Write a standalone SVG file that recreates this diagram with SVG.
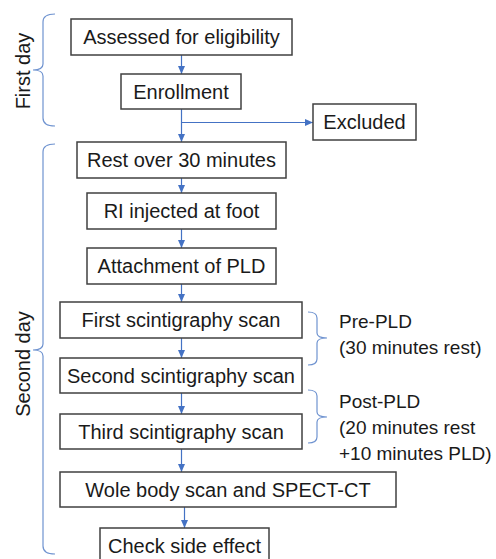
<svg xmlns="http://www.w3.org/2000/svg" width="496" height="559" viewBox="0 0 496 559">
<defs>
<marker id="ah" markerUnits="userSpaceOnUse" markerWidth="8" markerHeight="7" refX="8" refY="3.5" orient="auto">
<path d="M0,0 L8,3.5 L0,7 z" fill="#4472C4"/>
</marker>
<style>
.box{fill:#fff;stroke:#404040;stroke-width:1.5}
.t{font-family:"Liberation Sans",Arial,sans-serif;font-size:20px;fill:#1a1a1a}
.r{font-size:19px}
.c{text-anchor:middle}
.con{fill:none;stroke:#4472C4;stroke-width:1.2}
.br{fill:none;stroke:#6f93d0;stroke-width:1.2}
</style>
</defs>
<rect width="496" height="559" fill="#fff"/>
<g id="connectors">
<line class="con" x1="181.5" y1="55" x2="181.5" y2="74" marker-end="url(#ah)"/>
<line class="con" x1="181.5" y1="109" x2="181.5" y2="142" marker-end="url(#ah)"/>
<line class="con" x1="181.5" y1="122.5" x2="313" y2="122.5" marker-end="url(#ah)"/>
<line class="con" x1="181.5" y1="178" x2="181.5" y2="193" marker-end="url(#ah)"/>
<line class="con" x1="181.5" y1="229" x2="181.5" y2="248" marker-end="url(#ah)"/>
<line class="con" x1="181.5" y1="284" x2="181.5" y2="302" marker-end="url(#ah)"/>
<line class="con" x1="181.5" y1="338" x2="181.5" y2="358" marker-end="url(#ah)"/>
<line class="con" x1="181.5" y1="393" x2="181.5" y2="414" marker-end="url(#ah)"/>
<line class="con" x1="181.5" y1="449" x2="181.5" y2="472" marker-end="url(#ah)"/>
<line class="con" x1="184.5" y1="507" x2="184.5" y2="528" marker-end="url(#ah)"/>
</g>
<g id="brace-first-day">
<path class="br" d="M55,14 Q43,14 43,22 L43,64 Q43,70 33,70 Q43,70 43,76 L43,118 Q43,126 55,126"/>
<text class="t c" transform="translate(30,71) rotate(-90)">First day</text>
</g>
<g id="brace-second-day">
<path class="br" d="M55,144 Q43,144 43,152 L43,344 Q43,350 33,350 Q43,350 43,356 L43,546 Q43,554 55,554"/>
<text class="t c" transform="translate(30,364) rotate(-90)">Second day</text>
</g>
<g id="brace-pre">
<path class="br" d="M308,312 Q317,312 317,318 L317,333 Q317,338 327,338 Q317,338 317,343 L317,359 Q317,365 308,365"/>
<text class="t r" x="339" y="328">Pre-PLD</text>
<text class="t r" x="339" y="354">(30 minutes rest)</text>
</g>
<g id="brace-post">
<path class="br" d="M308,390 Q317,390 317,396 L317,412 Q317,417 327,417 Q317,417 317,422 L317,437 Q317,443 308,443"/>
<text class="t r" x="339" y="408">Post-PLD</text>
<text class="t r" x="339" y="434">(20 minutes rest</text>
<text class="t r" x="339" y="460">+10 minutes PLD)</text>
</g>
<g id="n-assessed"><rect class="box" x="71" y="19" width="221" height="36"/><text class="t c" x="181.5" y="44">Assessed for eligibility</text></g>
<g id="n-enrollment"><rect class="box" x="121" y="74" width="120" height="35"/><text class="t c" x="181" y="99">Enrollment</text></g>
<g id="n-excluded"><rect class="box" x="313" y="104" width="103" height="36"/><text class="t c" x="364.5" y="129">Excluded</text></g>
<g id="n-rest"><rect class="box" x="77" y="142" width="209" height="36"/><text class="t c" x="181.5" y="167">Rest over 30 minutes</text></g>
<g id="n-ri"><rect class="box" x="87" y="193" width="189" height="36"/><text class="t c" x="181.5" y="218">RI injected at foot</text></g>
<g id="n-attach"><rect class="box" x="87" y="248" width="189" height="36"/><text class="t c" x="181.5" y="273">Attachment of PLD</text></g>
<g id="n-first"><rect class="box" x="60" y="302" width="242" height="36"/><text class="t c" x="181" y="327">First scintigraphy scan</text></g>
<g id="n-second"><rect class="box" x="60" y="358" width="242" height="35"/><text class="t c" x="181" y="382.5">Second scintigraphy scan</text></g>
<g id="n-third"><rect class="box" x="60" y="414" width="242" height="35"/><text class="t c" x="181" y="438.5">Third scintigraphy scan</text></g>
<g id="n-whole"><rect class="box" x="60" y="472" width="336" height="35"/><text class="t c" x="228" y="496.5">Wole body scan and SPECT-CT</text></g>
<g id="n-check"><rect class="box" x="100" y="528" width="169" height="36"/><text class="t c" x="184.5" y="553">Check side effect</text></g>
</svg>
